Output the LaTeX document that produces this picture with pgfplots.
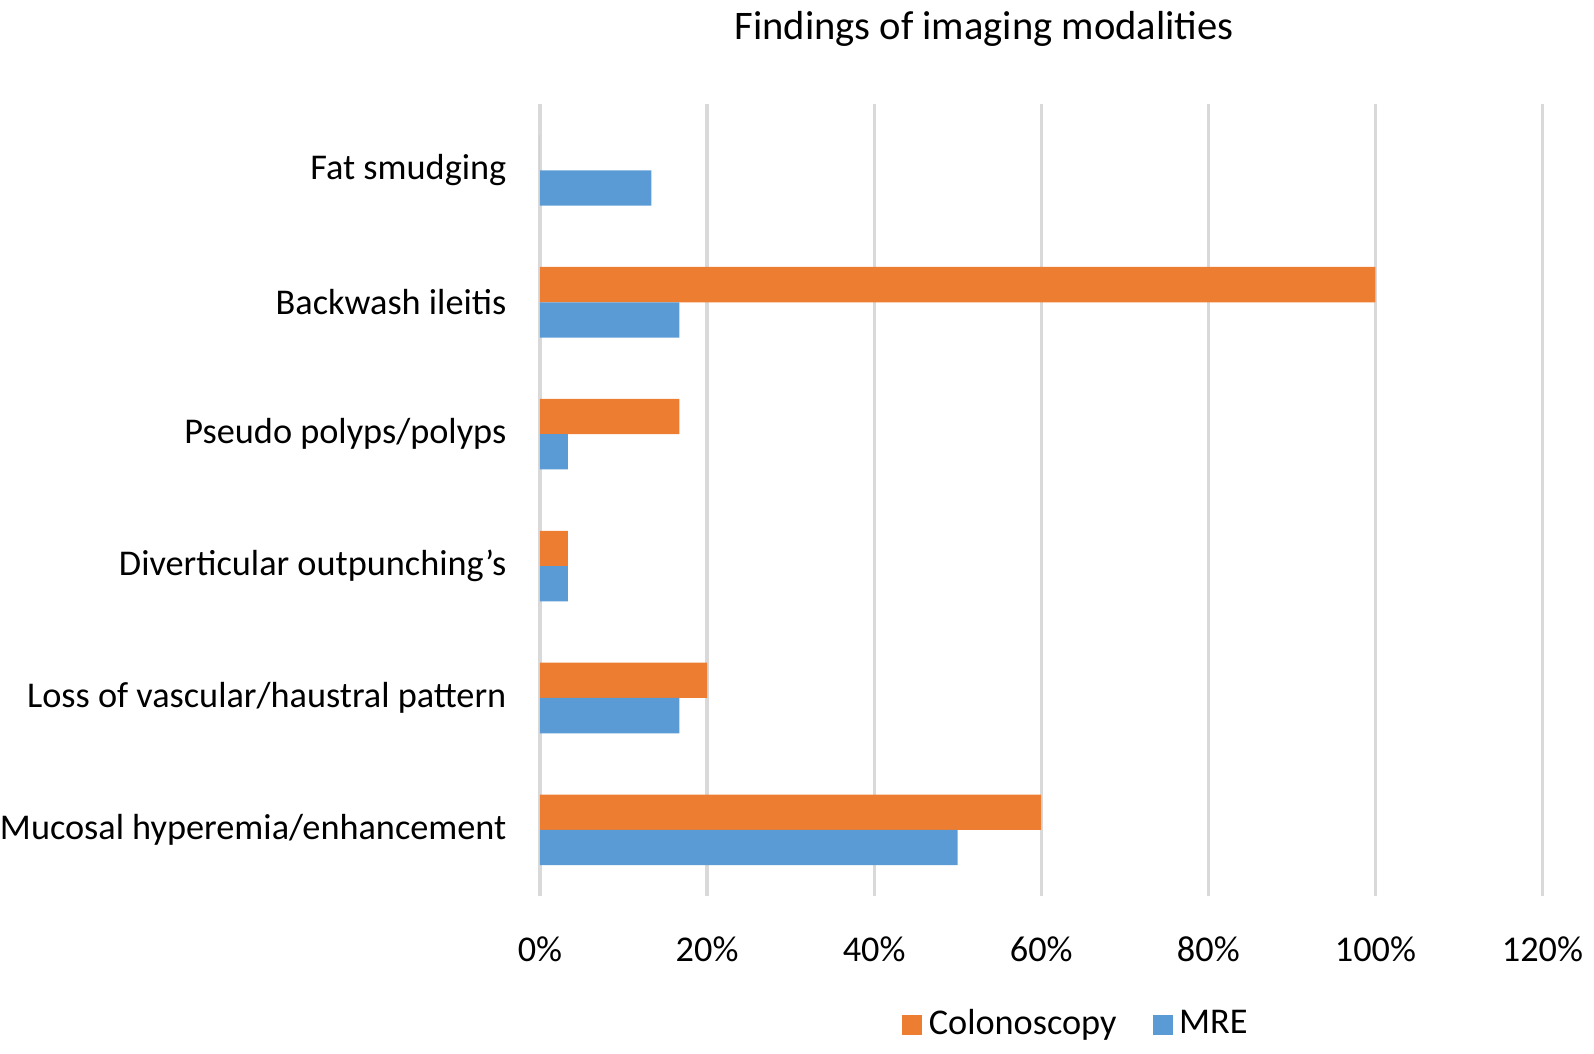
\documentclass[border=0pt]{standalone}
\usepackage{pgfplots}
\pgfplotsset{compat=1.18}
\usepackage{fontspec}
\setmainfont{Carlito}
\definecolor{colo}{HTML}{ED7D31}
\definecolor{mre}{HTML}{5B9BD5}
\definecolor{gridc}{HTML}{D9D9D9}
\begin{document}
\begin{tikzpicture}
\begin{axis}[
  scale only axis, width=304pt, height=240pt,
  xbar, bar width=10.7pt,
  xmin=0, xmax=120, ymin=-0.5, ymax=5.5,
  xtick={0,20,40,60,80,100,120},
  xticklabels={0\%,20\%,40\%,60\%,80\%,100\%,120\%},
  ytick={0,1,2,3,4,5},
  yticklabels={Mucosal hyperemia/enhancement,Loss of vascular/haustral pattern,Diverticular outpunching’s,Pseudo polyps/polyps,Backwash ileitis,Fat smudging},
  axis line style={draw=none},
  major tick length=0pt,
  xmajorgrids, grid style={gridc, line width=1pt},
  tick label style={font=\fontsize{11}{13}\selectfont},
  yticklabel style={anchor=east, inner sep=0pt, xshift=-10pt},
  xticklabel style={yshift=-9pt},
  legend style={at={(0.537,-0.163)}, anchor=center, draw=none, legend columns=2,
    font=\fontsize{11}{13}\selectfont, /tikz/every even column/.append style={column sep=9pt}},
  legend image code/.code={\fill[#1] (0pt,-3pt) rectangle (6pt,3pt);},
  clip=false
]
\addplot[fill=colo, draw=none, bar shift=5.35pt] coordinates {(60,0) (20,1) (3.33,2) (16.67,3) (100,4) (0,5)};
\addlegendentry{Colonoscopy}
\addplot[fill=mre, draw=none, bar shift=-5.35pt] coordinates {(50,0) (16.67,1) (3.33,2) (3.33,3) (16.67,4) (13.33,5)};
\addlegendentry{MRE}
\node[font=\fontsize{12.3}{14}\selectfont] at (axis description cs:0.443,1.0) [yshift=23pt] {Findings of imaging modalities};
\end{axis}
\end{tikzpicture}
\end{document}
